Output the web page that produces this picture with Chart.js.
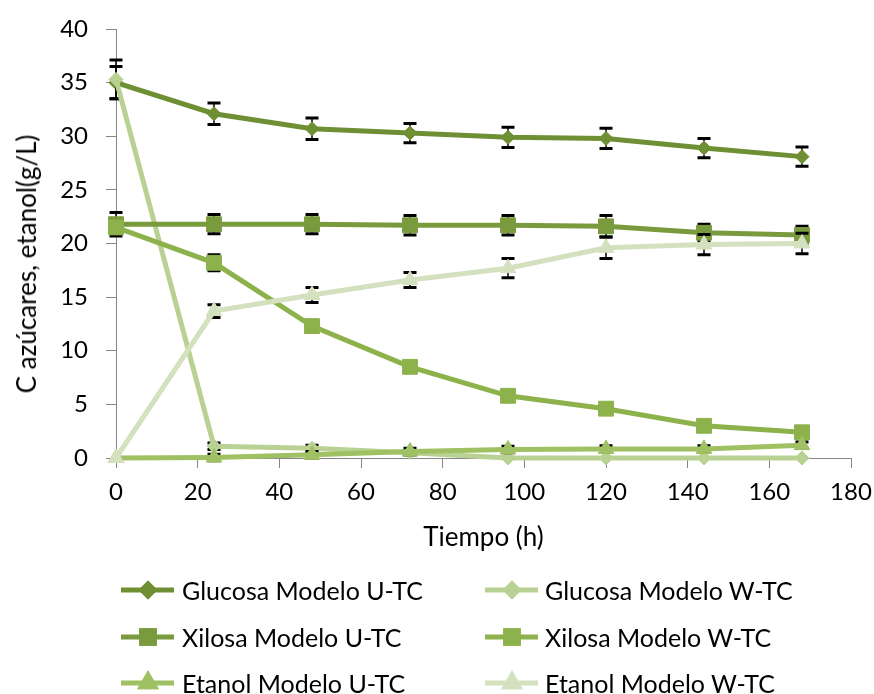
<!DOCTYPE html>
<html><head><meta charset="utf-8">
<script src="https://cdn.jsdelivr.net/npm/chart.js@4.4.1/dist/chart.umd.min.js"></script>
<style>
html,body{margin:0;padding:0;background:#fff;}
#wrap{position:relative;width:874px;height:694px;overflow:hidden;background:#fff;}
#c{position:absolute;left:0;top:0;}
.lt{position:absolute;font-family:Lato,sans-serif;font-size:25px;color:#000;white-space:nowrap;line-height:30px;}
.lm{position:absolute;}
#ytitle{position:absolute;left:26px;top:264px;transform:translate(-50%,-50%) rotate(-90deg);font-family:Lato,sans-serif;font-size:26px;line-height:30px;color:#000;white-space:nowrap;}
</style></head><body>
<div id="wrap"><canvas id="c" width="874" height="694"></canvas><div id="ytitle"></div><div id="legend"></div></div>
<script>
// ---- data ----
const hours = [0, 24, 48, 72, 96, 120, 144, 168];
const seriesNames = ["Glucosa Modelo U-TC", "Glucosa Modelo W-TC", "Xilosa Modelo U-TC", "Xilosa Modelo W-TC", "Etanol Modelo U-TC", "Etanol Modelo W-TC"];
const glucosaUTC    = [35.0, 32.1, 30.7, 30.3, 29.9, 29.8, 28.9, 28.1];
const glucosaUTCErr = [1.5, 1.0, 1.0, 0.9, 0.95, 0.95, 0.9, 0.9];
const glucosaWTC    = [35.3, 1.1, 0.9, 0.5, 0, 0, 0, 0];
const glucosaWTCErr = [1.8, 0.3, 0.3, 0.2, 0, 0, 0, 0];
const xilosaUTC     = [21.8, 21.8, 21.8, 21.7, 21.7, 21.6, 21.0, 20.8];
const xilosaUTCErr  = [1.1, 0.9, 0.9, 0.9, 0.9, 1.0, 0.8, 0.8];
const xilosaWTC     = [21.5, 18.2, 12.3, 8.5, 5.8, 4.6, 3.0, 2.4];
const xilosaWTCErr  = [0.5, 0.75, 0.3, 0.3, 0.2, 0.2, 0.2, 0.2];
const etanolUTC     = [0, 0.05, 0.3, 0.6, 0.8, 0.85, 0.85, 1.2];
const etanolUTCErr  = [0, 0.3, 0.3, 0.3, 0.3, 0.3, 0.3, 0.3];
const etanolWTC     = [0, 13.7, 15.2, 16.6, 17.7, 19.6, 19.9, 20.0];
const etanolWTCErr  = [0, 0.6, 0.7, 0.7, 0.9, 1.0, 0.95, 0.95];
const xTickValues = [0, 20, 40, 60, 80, 100, 120, 140, 160, 180];
const yTickValues = [0, 5, 10, 15, 20, 25, 30, 35, 40];
const xTitle = "Tiempo (h)";
const yTitle = "C azúcares, etanol(g/L)";

// ---- styles ----
const colors = ["#6F8F34", "#B9D193", "#7A9A3E", "#8DB24C", "#A0C163", "#D3E1BE"];
const shapes = ["rectRot", "rectRot", "rect", "rect", "triangle", "triangle"];
const radii  = [7, 7, 10.5, 10.5, 9, 9];
const values = [glucosaUTC, glucosaWTC, xilosaUTC, xilosaWTC, etanolUTC, etanolWTC];
const errors = [glucosaUTCErr, glucosaWTCErr, xilosaUTCErr, xilosaWTCErr, etanolUTCErr, etanolWTCErr];
const FONT = "Lato, sans-serif";

const datasets = seriesNames.map((name, i) => ({
  label: name,
  data: hours.map((h, j) => ({x: h, y: values[i][j]})),
  errors: errors[i],
  borderColor: colors[i],
  backgroundColor: colors[i],
  pointBackgroundColor: colors[i],
  pointBorderColor: colors[i],
  pointBorderWidth: 1,
  pointStyle: shapes[i],
  pointRadius: radii[i],
  borderWidth: 5,
  tension: 0,
  clip: false,
  order: 10 - i
}));

const errorBarPlugin = {
  id: 'errbars',
  beforeDatasetDraw(chart, args) {
    const ds = chart.data.datasets[args.index];
    if (!ds.errors) return;
    const ys = chart.scales.y;
    const ctx = chart.ctx;
    ctx.save();
    ctx.strokeStyle = '#000';
    args.meta.data.forEach((pt, i) => {
      const e = ds.errors[i];
      if (!e) return;
      const v = ds.data[i].y;
      const yt = ys.getPixelForValue(v + e), yb = ys.getPixelForValue(v - e);
      const x = pt.x;
      ctx.lineWidth = 1.5;
      ctx.beginPath(); ctx.moveTo(x, yt); ctx.lineTo(x, yb); ctx.stroke();
      ctx.lineWidth = 3;
      ctx.beginPath();
      ctx.moveTo(x - 6.5, yt); ctx.lineTo(x + 6.5, yt);
      ctx.moveTo(x - 6.5, yb); ctx.lineTo(x + 6.5, yb);
      ctx.stroke();
    });
    ctx.restore();
  }
};

new Chart(document.getElementById('c'), {
  type: 'line',
  data: { datasets },
  plugins: [errorBarPlugin],
  options: {
    responsive: false,
    animation: false,
    events: [],
    layout: { padding: { left: 0, top: 29, right: 23, bottom: 141 } },
    plugins: { legend: { display: false }, tooltip: { enabled: false } },
    scales: {
      x: {
        type: 'linear', min: 0, max: 180,
        afterBuildTicks: s => { s.ticks = xTickValues.map(v => ({value: v})); },
        afterFit: s => { s.height = 95; s.paddingLeft = 0; s.paddingRight = 0; },
        grid: { drawOnChartArea: false, drawTicks: true, tickLength: 10, color: '#868686' },
        border: { color: '#868686', width: 1 },
        ticks: { color: '#000', font: { family: FONT, size: 24 }, padding: 10, maxRotation: 0 },
        title: { display: true, text: xTitle, color: '#000', font: { family: FONT, size: 26 }, padding: { top: 0, bottom: 0 } }
      },
      y: {
        min: 0, max: 40,
        afterBuildTicks: s => { s.ticks = yTickValues.map(v => ({value: v})); },
        afterFit: s => { s.width = 116; s.paddingTop = 0; s.paddingBottom = 0; },
        grid: { drawOnChartArea: false, drawTicks: true, tickLength: 10, color: '#868686' },
        border: { color: '#868686', width: 1 },
        ticks: { color: '#000', font: { family: FONT, size: 24 }, padding: 18 },
        title: { display: false, text: yTitle }
      }
    }
  }
});

document.getElementById('ytitle').textContent = yTitle;

// ---- HTML legend ----
const legend = document.getElementById('legend');
const colX = [{m: 120, t: 182}, {m: 484, t: 545}];
const rowY = [590, 637, 683];
seriesNames.forEach((name, i) => {
  const col = i % 2, row = Math.floor(i / 2);
  const cv = document.createElement('canvas');
  cv.width = 56; cv.height = 26; cv.className = 'lm';
  cv.style.left = colX[col].m + 'px'; cv.style.top = (rowY[row] - 13) + 'px';
  const g = cv.getContext('2d');
  g.strokeStyle = colors[i]; g.lineWidth = 5;
  g.beginPath(); g.moveTo(1, 13); g.lineTo(54, 13); g.stroke();
  Chart.helpers.drawPoint(g, { pointStyle: shapes[i], radius: radii[i] * 0.85, borderWidth: 1, rotation: 0 }, 28, 13);
  g.fillStyle = colors[i];
  g.strokeStyle = colors[i];
  g.fill(); g.stroke();
  legend.appendChild(cv);
  const t = document.createElement('div');
  t.className = 'lt'; t.textContent = name;
  t.style.left = colX[col].t + 'px'; t.style.top = (rowY[row] - 15) + 'px';
  legend.appendChild(t);
});
</script>
</body></html>
